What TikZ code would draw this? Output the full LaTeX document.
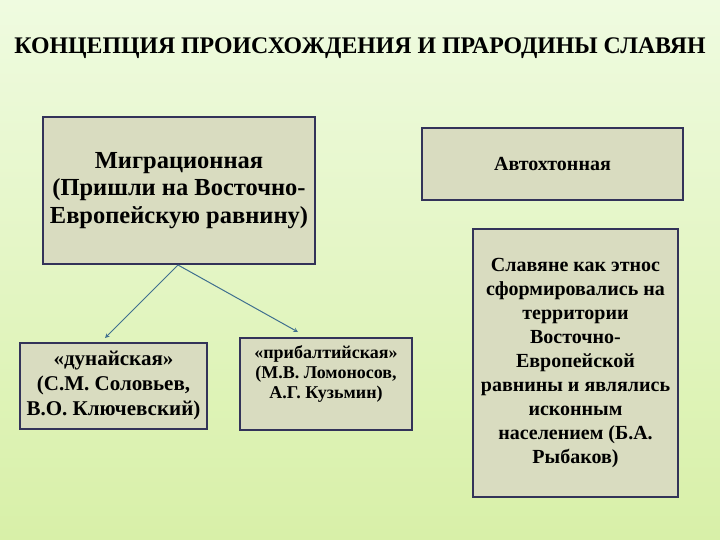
\documentclass[tikz,border=0pt]{standalone}
\usepackage{fontspec}
\setmainfont{Liberation Serif}
\begin{document}
\begin{tikzpicture}[x=1pt,y=-1pt,
  box/.style={draw=black!75!blue!60!gray,line width=1.6pt,fill=boxfill,inner sep=0pt,align=center,font=\bfseries},
  conn/.style={draw=linkblue,line width=1pt,-stealth}]
\definecolor{boxfill}{HTML}{D9DCC0}
\definecolor{linkblue}{HTML}{3F6F8F}
\definecolor{bgtop}{HTML}{EFFBE0}
\definecolor{bgbot}{HTML}{D8F0A8}
\useasboundingbox (0,0) rectangle (720,540);
\shade[top color=bgtop,bottom color=bgbot] (0,0) rectangle (720,540);
\node[font=\bfseries\fontsize{23.8}{26}\selectfont] (title) at (360,48) {КОНЦЕПЦИЯ ПРОИСХОЖДЕНИЯ И ПРАРОДИНЫ СЛАВЯН};
\node[box,minimum width=272,minimum height=147,font=\bfseries\fontsize{24.5}{27.5}\selectfont] (mig) at (179,190.5) {Миграционная\\(Пришли на Восточно-\\Европейскую равнину)};
\node[box,minimum width=261,minimum height=72,font=\bfseries\fontsize{20}{24}\selectfont] (avt) at (552.5,164) {Автохтонная};
\node[box,minimum width=187,minimum height=86,font=\bfseries\fontsize{21}{25}\selectfont] (dun) at (113.5,386) {«дунайская»\\(С.М. Соловьев,\\В.О. Ключевский)};
\node[box,minimum width=172,minimum height=92,anchor=north] (pri) at (326,337) {};
\node[anchor=north,align=center,inner sep=0pt,font=\bfseries\fontsize{18}{20}\selectfont] (pritext) at (pri.north) [yshift=-8pt] {«прибалтийская»\\(М.В. Ломоносов,\\А.Г. Кузьмин)};
\node[box,minimum width=205,minimum height=268,font=\bfseries\fontsize{20}{24}\selectfont] (sla) at (575.5,363) {Славяне как этнос\\сформировались на\\территории\\Восточно-\\Европейской\\равнины и являлись\\исконным\\населением (Б.А.\\Рыбаков)};
\coordinate (src) at (178,265);
\draw[conn] (src) -- (105,338);
\draw[conn] (src) -- (298,332);
\end{tikzpicture}
\end{document}
